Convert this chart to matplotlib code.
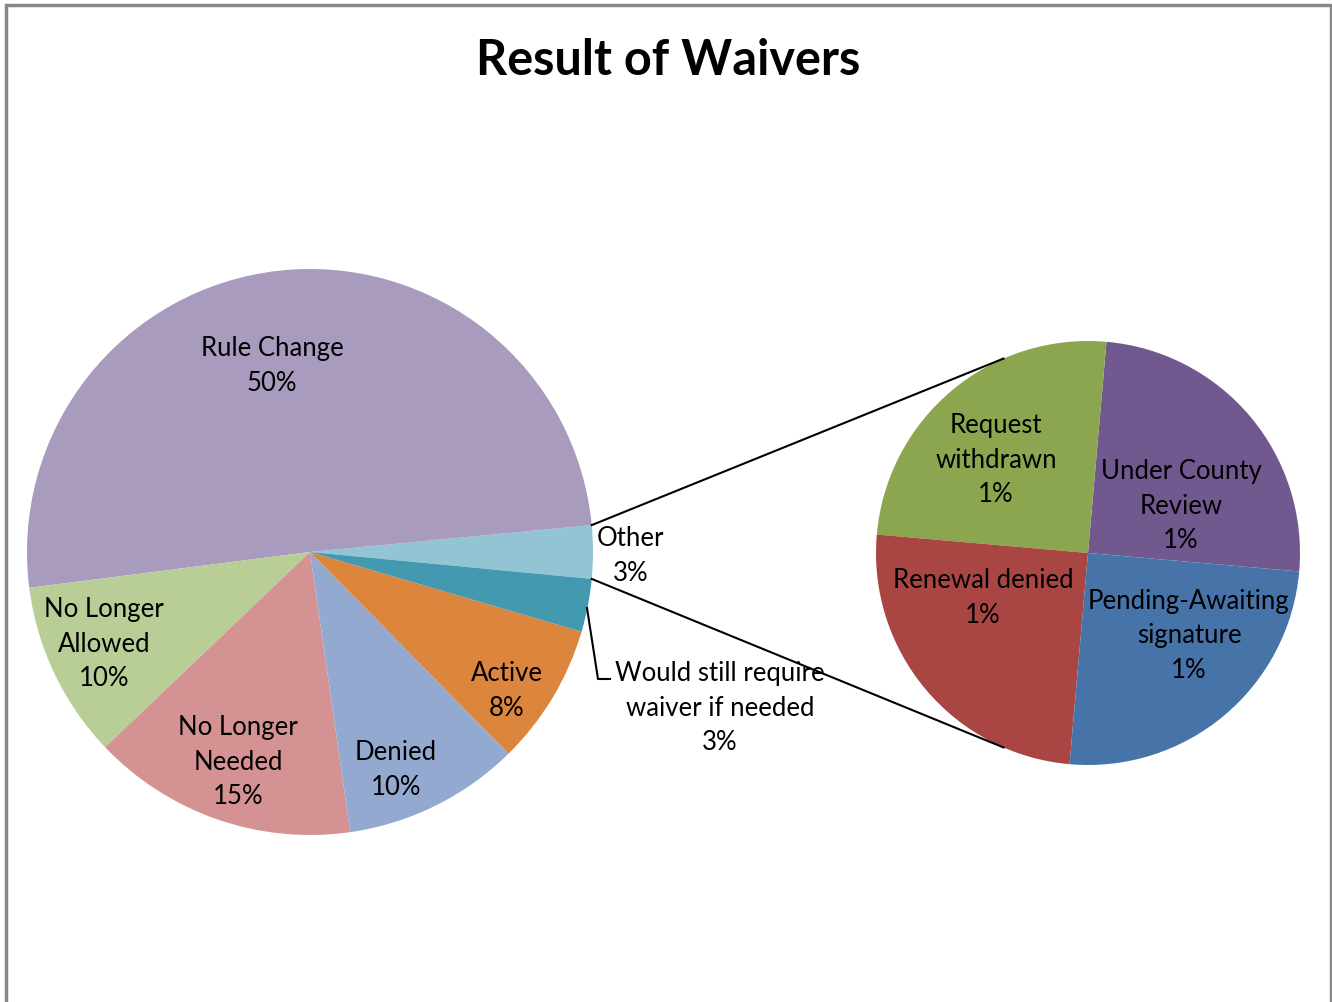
import matplotlib.pyplot as plt
import numpy as np

plt.rcParams['font.family'] = ['Lato', 'DejaVu Sans']

# main pie, counterclockwise starting from the "Other" wedge
main_labels = ["Other", "Rule Change", "No Longer\nAllowed", "No Longer\nNeeded",
               "Denied", "Active", "Would still require\nwaiver if needed"]
main_pct = [3, 50, 10, 15, 10, 8, 3]
main_colors = ["#93C4D4", "#A99BBD", "#B9CD96", "#D49392", "#94A9D0", "#DC853D", "#4299B0"]

# breakdown of "Other"
sub_labels = ["Under County\nReview", "Request\nwithdrawn", "Renewal denied",
              "Pending-Awaiting\nsignature"]
sub_pct = [1, 1, 1, 1]
sub_colors = ["#71588F", "#8BA64E", "#A94644", "#4673A8"]

W, H = 1332, 1002
fig = plt.figure(figsize=(W / 100, H / 100), dpi=100)
ax = fig.add_axes([0, 0, 1, 1])

def Y(y):
    return H - y

# frame (open at the bottom)
ax.plot([6, 6, 1331, 1331], [0, Y(5), Y(5), 0], color="#888888", lw=2.5,
        solid_joinstyle='miter')

main_c = (310, Y(552))
main_r = 283
other_half = main_pct[0] / sum(main_pct) * 180
ax.pie(main_pct, colors=main_colors, startangle=-other_half, counterclock=True,
       center=main_c, radius=main_r, frame=True, wedgeprops=dict(linewidth=0))

sub_c = (1088, Y(553))
sub_r = 212
ax.pie(sub_pct, colors=sub_colors, startangle=-5, counterclock=True,
       center=sub_c, radius=sub_r, frame=True, wedgeprops=dict(linewidth=0))
ax.set_xlim(0, W)
ax.set_ylim(0, H)
ax.set_aspect('equal')
ax.axis('off')

# connector lines from the "Other" wedge to the secondary pie
a = np.deg2rad(other_half)
for sgn, ang in [(1, 113.5), (-1, -113.5)]:
    x0 = main_c[0] + main_r * np.cos(a)
    y0 = main_c[1] + sgn * main_r * np.sin(a)
    x1 = sub_c[0] + sub_r * np.cos(np.deg2rad(ang))
    y1 = sub_c[1] + sub_r * np.sin(np.deg2rad(ang))
    ax.plot([x0, x1], [y0, y1], color="black", lw=1.5)

fs = 18.5
label_pos = {
    "Other": (631, 556),
    "Rule Change": (272, 366),
    "No Longer\nAllowed": (104, 644),
    "No Longer\nNeeded": (238, 762),
    "Denied": (396, 770),
    "Active": (507, 691),
    "Would still require\nwaiver if needed": (720, 708),
    "Under County\nReview": (1181, 506),
    "Request\nwithdrawn": (996, 460),
    "Renewal denied": (983, 598),
    "Pending-Awaiting\nsignature": (1189, 636),
}
for lab, p in list(zip(main_labels, main_pct)) + list(zip(sub_labels, sub_pct)):
    x, y = label_pos[lab]
    ax.text(x, Y(y), f"{lab}\n{p}%", ha='center', va='center', fontsize=fs,
            linespacing=1.46, color="black")

# leader line for the small wedge label
ax.plot([587, 598, 610], [Y(608), Y(679), Y(679)], color="black", lw=1.5)

ax.text(668, Y(60), "Result of Waivers", ha='center', va='center',
        fontsize=35, fontweight='bold')

fig.savefig("out.png", dpi=100, facecolor="white")
